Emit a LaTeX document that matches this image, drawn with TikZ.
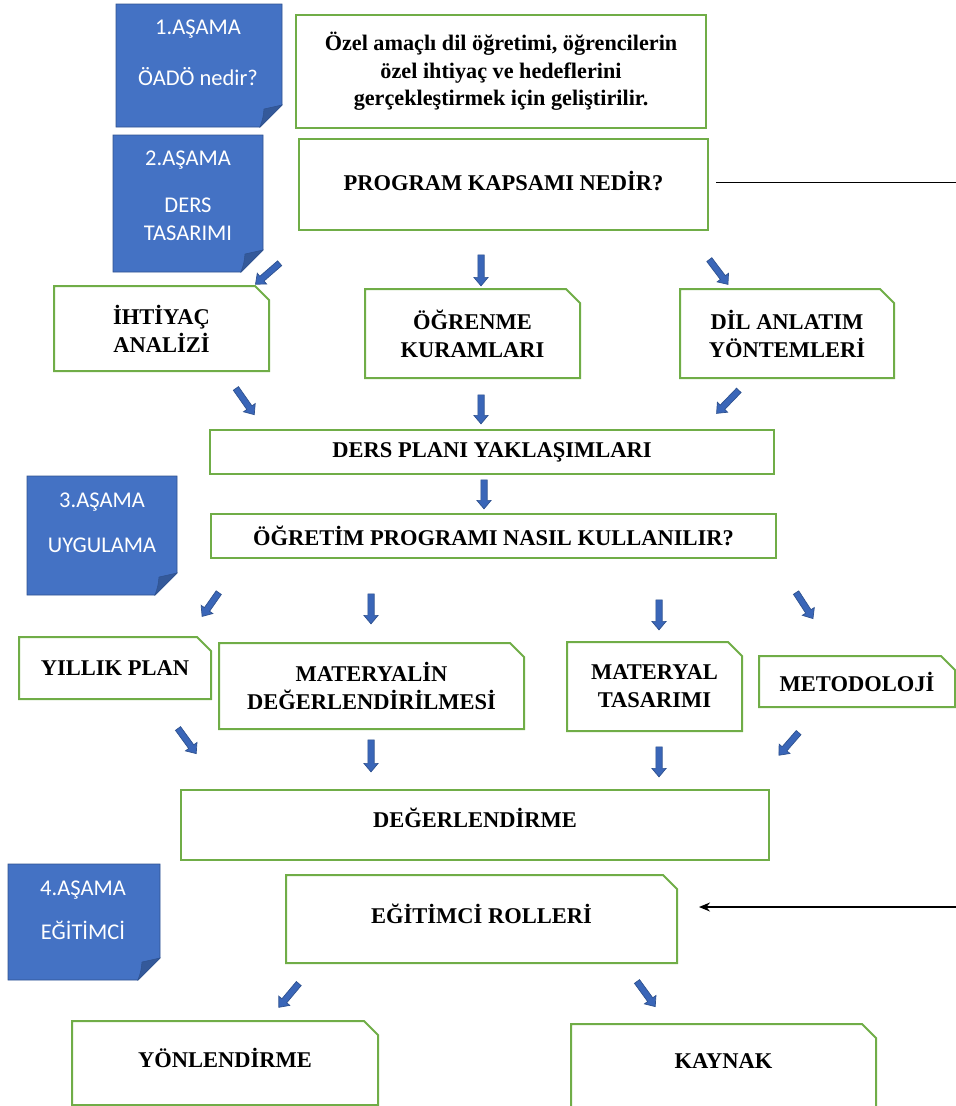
\documentclass[tikz,border=0pt]{standalone}
\usepackage{fontspec}
\setmainfont{Liberation Serif}
\newfontfamily\stagefont{Carlito}
\usetikzlibrary{shapes.arrows,arrows.meta}
\definecolor{boxgreen}{HTML}{70AD47}
\definecolor{stageblue}{HTML}{4472C4}
\definecolor{stageedge}{HTML}{2F528F}
\definecolor{stagefold}{HTML}{34599A}
\definecolor{arrowblue}{HTML}{3A66B8}
\tikzset{
  box/.style={draw=boxgreen, line width=2pt, inner sep=0pt, align=center,
    font=\bfseries\fontsize{22.5}{28}\selectfont},
  snipbox/.style={box, draw=none},
  snipline/.style={draw=boxgreen, line width=2pt},
  stagenote/.style={fill=stageblue, draw=stageedge, line width=0.8pt},
  stagecorner/.style={fill=stagefold, draw=stageedge, line width=0.5pt},
  stagetext/.style={text=white, align=center, inner sep=0pt,
    font=\stagefont\fontsize{22.5}{28}\selectfont},
  flowarrow/.style={single arrow, fill=arrowblue, draw=stageedge, line width=0.7pt,
    inner sep=2.8pt, single arrow head extend=4pt, single arrow head indent=0pt,
    single arrow tip angle=80},
}
\begin{document}
\begin{tikzpicture}[x=1pt,y=-1pt]
    \useasboundingbox (0,0) rectangle (956,1106);
    %% stage notes
    \foreach \xa/\ya/\xb/\yb in {116/4/282/127,113/135/263/272,27/476/177/595,8/864/160/980} {
        \path[stagenote] (\xa,\ya) -- (\xb,\ya) -- (\xb,\yb-22) -- (\xb-22,\yb) -- (\xa,\yb) -- cycle;
        \path[stagecorner] (\xb,\yb-22) -- (\xb-22,\yb) .. controls (\xb-19,\yb-9) .. (\xb-18,\yb-18) -- cycle;
    }
    \node[stagetext] (stage1) at (198,53) {1.AŞAMA\\[23pt]ÖADÖ nedir?};
    \node[stagetext] (stage2) at (188,196) {2.AŞAMA\\[19pt]DERS\\TASARIMI};
    \node[stagetext] (stage3) at (102,523) {3.AŞAMA\\[17pt]UYGULAMA};
    \node[stagetext] (stage4) at (83,910) {4.AŞAMA\\[16pt]EĞİTİMCİ};
    %% boxes
    \node[box, minimum width=410pt, minimum height=113pt, font=\bfseries\fontsize{22.2}{27.5}\selectfont] (ozel) at (501,71.5)
        {Özel amaçlı dil öğretimi, öğrencilerin\\özel ihtiyaç ve hedeflerini\\gerçekleştirmek için geliştirilir.};
    \node[box, minimum width=409pt, minimum height=91pt, text depth=7pt] (prog) at (503.5,184.5) {PROGRAM KAPSAMI NEDİR?};
    \node[snipbox, minimum width=213pt, minimum height=83pt] (ihtiyac) at (161.5,328.5) {İHTİYAÇ\\ANALİZİ};
    \node[snipbox, minimum width=213pt, minimum height=87pt] (ogrenme) at (472.5,333.5) {ÖĞRENME\\KURAMLARI};
    \node[snipbox, minimum width=212pt, minimum height=87pt] (dil) at (787,333.5) {DİL ANLATIM\\YÖNTEMLERİ};
    \node[box, minimum width=564pt, minimum height=44pt] (dersplani) at (492,452) {DERS PLANI YAKLAŞIMLARI};
    \node[box, minimum width=565pt, minimum height=44pt] (ogretim) at (493.5,536) {ÖĞRETİM PROGRAMI NASIL KULLANILIR?};
    \node[snipbox, minimum width=190pt, minimum height=60pt] (yillik) at (115,668) {YILLIK PLAN};
    \node[snipbox, minimum width=303pt, minimum height=84pt] (materyalin) at (371.5,686) {MATERYALİN\\DEĞERLENDİRİLMESİ};
    \node[snipbox, minimum width=173pt, minimum height=87pt] (materyal) at (654.5,686.5) {MATERYAL\\TASARIMI};
    \node[snipbox, minimum width=194pt, minimum height=49pt] (metodoloji) at (857,681.5) {METODOLOJİ};
    \node[box, minimum width=588pt, minimum height=70pt, text depth=14pt] (degerlendirme) at (475,825) {DEĞERLENDİRME};
    \node[snipbox, minimum width=389pt, minimum height=86pt, text depth=10pt] (roller) at (481.5,919) {EĞİTİMCİ ROLLERİ};
    \node[snipbox, minimum width=304pt, minimum height=82pt, text depth=10pt] (yonlendirme) at (225,1063) {YÖNLENDİRME};
    \node[snipbox, minimum width=303pt, minimum height=81pt, text depth=9pt] (kaynak) at (723.5,1065.5) {KAYNAK};
    \foreach \n in {ihtiyac,ogrenme,dil,yillik,materyalin,materyal,metodoloji,roller,yonlendirme,kaynak}
        \draw[snipline] (\n.south west) -- (\n.north west) -- ([xshift=-14pt]\n.north east)
            -- ([yshift=-14pt]\n.north east) -- (\n.south east) -- cycle;
    %% block arrows
    \foreach \x/\y/\a/\l [count=\i] in {269/272.5/-139/32, 481/268.5/-90/31, 717.5/270.5/-53/31,
        244/400/-55/32, 481/407.5/-90/29, 729/400.5/-134/32, 484/492.5/-90/29,
        211.5/603/-125/29, 371/607/-90/30, 659/613/-90/30, 803.5/604/-57/31,
        186/739.5/-54/31, 371/754/-90/32, 659/760/-90/30, 790/742.5/-131/30,
        290/994/-130/31, 645/992.5/-54/31}
        \node[flowarrow, rotate=\a, minimum height=\l*1pt] (arrow\i) at (\x,\y) {};
    %% side lines
    \coordinate (progline) at (956,182);
    \draw[line width=1pt] ([xshift=7pt]prog.east |- progline) -- (progline);
    \coordinate (rollerline) at (956,907);
    \draw[line width=1.2pt, -{Stealth[length=11pt,width=9pt]}] (rollerline) -- ([xshift=22pt]roller.east |- rollerline);
\end{tikzpicture}
\end{document}
